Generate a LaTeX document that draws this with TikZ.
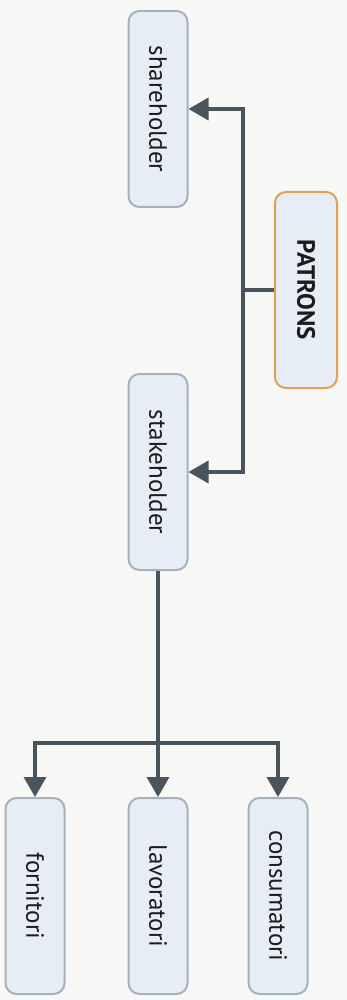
\documentclass[tikz,border=0pt]{standalone}
\usepackage{fontspec}
\setmainfont{PT Sans}
\usetikzlibrary{arrows.meta,calc}
\definecolor{boxfill}{HTML}{E7EDF4}
\definecolor{boxline}{HTML}{A4B1BF}
\definecolor{connc}{HTML}{4A545C}
\definecolor{orangeline}{HTML}{E3A055}
\definecolor{bgc}{HTML}{F7F7F6}
\definecolor{txt}{HTML}{1C1C1C}
\begin{document}
\begin{tikzpicture}[x=1pt,y=-1pt,
  box/.style={draw=boxline, fill=boxfill, line width=2pt, rounded corners=11pt,
    rotate=-90, minimum width=196pt, minimum height=59pt, inner sep=0pt,
    text=txt, font=\fontsize{25}{28}\selectfont},
  patronbox/.style={box, draw=orangeline, minimum height=62pt,
    font=\fontsize{25}{28}\selectfont\bfseries},
  conn/.style={draw=connc, line width=3.5pt},
  arr/.style={conn, -{Triangle[length=20pt,width=22pt]}}]
\fill[bgc] (0,0) rectangle (347,1000);
\useasboundingbox (0,0) rectangle (347,1000);

\node[box] (sh) at (158,109) {shareholder};
\node[patronbox] (pa) at (306,290) {PATRONS};
\node[box] (st) at (158,472) {stakeholder};
\node[box] (fo) at (35,896) {fornitori};
\node[box] (la) at (158,896) {lavoratori};
\node[box] (co) at (278,896) {consumatori};

\coordinate (spine) at (243,290);
\coordinate (bus) at (158,743);

\draw[conn] (pa.south) -- (pa.south -| spine);
\draw[arr] (pa.south -| spine) -- (sh.north -| spine) -- (sh.north);
\draw[arr] (pa.south -| spine) -- (st.north -| spine) -- (st.north);

\draw[arr] (st.east) -- (la.west);
\draw[arr] (bus) -- (fo.west |- bus) -- (fo.west);
\draw[arr] (bus) -- (co.west |- bus) -- (co.west);
\end{tikzpicture}
\end{document}
